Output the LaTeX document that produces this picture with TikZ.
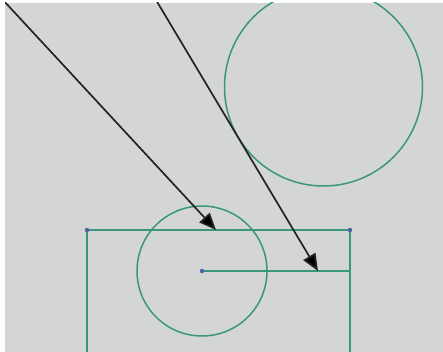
\documentclass[tikz,border=0pt]{standalone}
\usetikzlibrary{arrows.meta}
\definecolor{bggray}{RGB}{212,214,213}
\definecolor{teal}{RGB}{58,150,124}
\definecolor{dotblue}{RGB}{80,96,160}
\definecolor{arrowgray}{RGB}{35,35,35}
\tikzset{
  geo/.style={draw=teal, line width=1.5pt},
  ptr/.style={draw=arrowgray, line width=1.7pt, -{Triangle[length=17pt,width=14pt,fill=black]}},
  vdot/.style={circle, fill=dotblue, inner sep=0pt, minimum size=4.5pt}
}
\begin{document}
\begin{tikzpicture}[x=1pt,y=-1pt]
\useasboundingbox (0,0) rectangle (443,352);
\fill[white] (0,0) rectangle (443,352);
\fill[bggray] (5,3) rectangle (443,352);
\begin{scope}
\clip (5,3) rectangle (443,352);
% coordinates
\coordinate (bigc) at (323.5,87);
\coordinate (smallc) at (202,271);
\coordinate (rtl) at (87,230);
\coordinate (rtr) at (350,230);
\coordinate (rbl) at (87,352);
\coordinate (rbr) at (350,352);
\coordinate (mr) at (350,271);
\coordinate (a1s) at (3,0);
\coordinate (a1e) at (216,230);
\coordinate (a2s) at (156,0);
\coordinate (a2e) at (318,271);
% geometry
\draw[geo] (bigc) circle[radius=99];
\draw[geo] (smallc) circle[radius=65];
\draw[geo] (rbl) -- (rtl) -- (rtr) -- (rbr);
\draw[geo] (smallc) -- (mr);
\node[vdot] (d1) at (rtl) {};
\node[vdot] (d2) at (rtr) {};
\node[vdot] (d3) at (smallc) {};
% arrows
\draw[ptr] (a1s) -- (a1e);
\draw[ptr] (a2s) -- (a2e);
\end{scope}
\end{tikzpicture}
\end{document}
